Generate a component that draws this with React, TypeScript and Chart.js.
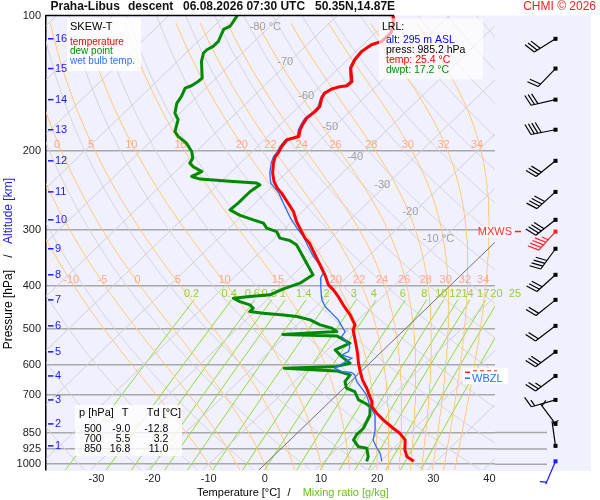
import React, { useEffect, useRef } from 'react';
import { Chart, registerables } from 'chart.js';
Chart.register(...registerables);

const FONT = '"Liberation Sans", Arial, Helvetica, sans-serif';
const SKEW = 36;

// ---- sounding data (pressure hPa, temperature °C) ----
const TEMP_P = [100, 104.9, 109.4, 114.2, 116.2, 120.3, 125.5, 130.9, 140.3, 143.4, 144.4, 145.8, 148.9, 152.8, 159.5, 163.6, 169.3, 175.2, 179.8, 186.0, 189.2, 195.9, 202.6, 206.2, 213.3, 224.5, 234.4, 242.5, 248.8, 261.9, 273.4, 287.8, 297.7, 313.0, 321.6, 338.5, 353.5, 365.6, 378.4, 398.4, 408.7, 423.0, 441.4, 464.7, 489.1, 501.9, 528.3, 565.6, 595.4, 616.3, 648.7, 677.0, 706.8, 725.2, 744.0, 769.7, 796.6, 831.3, 852.9, 882.7, 929.2, 961.7, 985.2];
const TEMP_T = [-60.0, -58.3, -57.2, -57.3, -58.5, -59.0, -58.7, -57.9, -55.2, -55.3, -56.6, -57.4, -57.9, -57.5, -56.3, -56.2, -56.5, -56.0, -55.5, -54.5, -56.0, -55.7, -55.1, -55.0, -54.1, -52.4, -50.6, -48.8, -47.1, -44.1, -41.6, -39.2, -37.4, -34.7, -32.9, -30.2, -27.9, -26.1, -24.3, -21.8, -20.0, -17.9, -15.5, -12.4, -9.7, -9.1, -6.9, -4.0, -2.0, -0.5, 1.8, 4.1, 6.2, 7.5, 8.4, 10.5, 12.9, 16.2, 18.3, 20.5, 22.3, 23.9, 26.0];

const DEW_P = [100, 103.1, 105.8, 107.2, 109.4, 114.2, 117.2, 119.2, 121.2, 126.6, 137.9, 140.3, 143.4, 145.1, 151.5, 156.7, 165.0, 170.7, 181.3, 186.0, 192.5, 201.0, 207.9, 213.3, 217.1, 222.7, 228.4, 231.5, 234.4, 236.3, 238.4, 246.7, 261.9, 271.1, 278.8, 285.3, 290.2, 297.7, 303.0, 313.4, 317.3, 324.4, 335.7, 356.4, 378.4, 394.9, 406.6, 419.3, 423.0, 426.5, 434.0, 441.4, 449.0, 456.9, 460.6, 464.7, 468.7, 476.7, 489.1, 497.5, 506.3, 513.6, 517.6, 537.4, 556.1, 575.6, 595.4, 605.3, 610.9, 619.4, 632.3, 654.4, 677.0, 688.9, 718.8, 731.2, 744.0, 776.4, 831.3, 860.4, 882.7, 913.6, 921.2, 961.7, 985.2];
const DEW_T = [-87.8, -87.4, -87.1, -87.7, -87.3, -86.4, -86.4, -86.9, -86.9, -85.7, -82.5, -82.6, -83.0, -83.7, -82.8, -82.4, -80.9, -79.1, -77.5, -76.0, -73.3, -70.8, -69.4, -69.0, -67.8, -65.3, -66.2, -64.2, -57.9, -53.4, -52.5, -53.0, -53.0, -53.2, -50.4, -47.2, -44.8, -43.3, -40.9, -39.1, -36.9, -34.9, -33.0, -29.7, -26.4, -27.2, -29.1, -30.4, -33.6, -36.3, -34.5, -32.1, -30.9, -30.9, -28.2, -24.3, -21.6, -18.6, -15.9, -13.2, -11.7, -20.8, -10.9, -7.2, -8.6, -6.2, -3.5, -5.3, -14.3, -4.5, -1.3, -1.0, 0.5, 2.6, 4.8, 6.6, 8.1, 9.6, 10.9, 10.9, 11.3, 13.4, 15.2, 17.0, 17.6];

const WB_P = [100, 104.9, 109.4, 114.2, 116.2, 120.3, 125.5, 130.9, 140.3, 143.4, 144.4, 145.8, 148.9, 152.8, 159.5, 163.6, 169.3, 175.2, 179.8, 186.0, 189.2, 195.9, 202.6, 206.2, 213.3, 224.5, 236.3, 248.8, 264.2, 282.8, 297.7, 310.9, 327.3, 344.5, 356.4, 375.2, 384.3, 402.5, 423.0, 430.2, 445.3, 460.6, 476.7, 493.4, 506.3, 519.4, 532.9, 546.8, 561.0, 570.6, 580.3, 610.9, 621.7, 624, 632.3, 654.4, 677.0, 700.7, 718.8, 744.0, 776.4, 838.5, 882.7, 921.2, 945.1, 985.2];
const WB_T = [-60.1, -58.4, -57.4, -57.5, -58.7, -59.2, -58.9, -58.1, -55.5, -55.6, -56.8, -57.6, -58.1, -57.7, -56.6, -56.5, -56.8, -56.3, -55.8, -54.8, -56.3, -56.0, -55.4, -55.3, -54.5, -52.9, -50.9, -47.6, -44.5, -40.9, -37.9, -35.2, -32.5, -29.7, -27.6, -24.9, -24.5, -22.8, -20.9, -20.2, -18.4, -16.0, -13.6, -11.7, -10.2, -9.9, -8.1, -6.6, -5.9, -6.5, -4.1, -5.3, -3.4, -1.6, -0.5, 1.1, 3.2, 5.3, 6.5, 8.1, 10.5, 13.3, 14.8, 17.0, 18.5, 20.3];

// ---- altitude marks and winds (one per km) ----
const ALT_KM = [1, 2, 3, 4, 5, 6, 7, 8, 9, 10, 11, 12, 13, 14, 15, 16];
const ALT_P = [910, 813, 718.8, 635.6, 561.6, 491.6, 430.2, 378.3, 331, 285.3, 247.2, 210.8, 179.7, 154, 131.3, 112.7];
const WIND_DIR = [352, 323, 254, 233, 233, 233, 231, 228, 216, 232, 228, 231, 259, 257, 224, 238];
const WIND_SPD = [3, 5, 15, 25, 30, 20, 20, 30, 40, 40, 40, 30, 40, 30, 20, 30];
const MXWS_P = 303, MXWS_DIR = 222, MXWS_SPD = 45;
const SFC_P = 985.2, SFC_DIR = 203, SFC_SPD = 5;
const FZL_P = 619, WBZL_P = 643;

// ---- diagram reference lines ----
const MIX_RATIOS = [0.2, 0.4, 0.6, 0.8, 1, 1.4, 2, 3, 4, 6, 8, 10, 12, 14, 17, 20, 25];
const THETA_W = [-10, -5, 0, 5, 10, 15, 20, 22, 24, 26, 28, 30, 32, 34];
const ISO_LABEL_T = [-80, -70, -60, -50, -40, -30, -20, -10];
const ISO_LABEL_P = [106, 126.8, 150.9, 177, 206.5, 238.4, 273.8, 314.6];
const ISO_LABEL_TXT = ['-80 °C', '-70', '-60', '-50', '-40', '-30', '-20', '-10 °C'];

const X_TICKS = [-30, -20, -10, 0, 10, 20, 30, 40];
const P_TICKS = [100, 200, 300, 400, 500, 600, 700, 850, 925, 1000];

const TABLE_P = ['500', '700', '850'];
const TABLE_T = ['-9.0', '5.5', '16.8'];
const TABLE_TD = ['-12.8', '3.2', '11.0'];

const skewX = (t: number, p: number) => t + SKEW * Math.log(1000 / p);

function esat(tc: number) { return 6.112 * Math.exp(17.67 * tc / (tc + 243.5)); }
function rsat(p: number, tc: number) { const e = esat(tc); return 0.622 * e / (p - e); }
function lapse(p: number, tk: number) {
  const Rd = 287.04, Cp = 1005.7, Lv = 2.501e6, eps = 0.622;
  const rs = rsat(p, tk - 273.15);
  return (Rd * tk + Lv * rs) / (Cp + (Lv * Lv * rs * eps) / (Rd * tk * tk)) / p;
}
function moistAdiabat(tw: number) {
  const up: { x: number; y: number }[] = [];
  let t200 = 0, t400 = 0;
  let t = tw + 273.15;
  const dp = -2;
  up.push({ x: skewX(tw, 1000), y: 1000 });
  for (let k = 1; k <= 450; k++) {
    const p = 1000 + dp * (k - 1);
    const k1 = lapse(p, t);
    const k2 = lapse(p + dp / 2, t + k1 * dp / 2);
    t += k2 * dp;
    const pn = 1000 + dp * k;
    if (pn === 400) t400 = t - 273.15;
    if (pn === 200) t200 = t - 273.15;
    if (k % 4 === 0) up.push({ x: skewX(t - 273.15, pn), y: pn });
  }
  const low: { x: number; y: number }[] = [];
  t = tw + 273.15;
  for (let k = 1; k <= 20; k++) {
    const p = 1000 + 2 * (k - 1);
    const k1 = lapse(p, t);
    const k2 = lapse(p + 1, t + k1);
    t += k2 * 2;
    if (k % 5 === 0) low.push({ x: skewX(t - 273.15, p + 2), y: p + 2 });
  }
  return { pts: [...low.reverse(), ...up], t200, t400 };
}
function tMix(w: number, p: number) {
  const e = (w / 1000) * p / (0.622 + w / 1000);
  const l = Math.log(e / 6.112);
  return 243.5 * l / (17.67 - l);
}

function drawBarb(ctx: CanvasRenderingContext2D, x: number, y: number, dir: number, spd: number, color: string) {
  const L = 25;
  const r = dir * Math.PI / 180;
  const sx = Math.sin(r), sy = -Math.cos(r);
  const ex = x + sx * L, ey = y + sy * L;
  const fx = -sy, fy = sx;
  ctx.strokeStyle = color; ctx.fillStyle = color; ctx.lineWidth = 1.2;
  ctx.fillRect(x - 2, y - 2, 4, 4);
  ctx.beginPath(); ctx.moveTo(x, y); ctx.lineTo(ex, ey); ctx.stroke();
  let s = Math.round(spd / 5) * 5;
  let d = 0;
  const full = 11, half = 6.5;
  if (s < 10 && s >= 5) d = 2.5;
  while (s >= 10) {
    const bx = ex - sx * d, by = ey - sy * d;
    ctx.beginPath(); ctx.moveTo(bx, by);
    ctx.lineTo(bx + fx * full + sx * 4, by + fy * full + sy * 4); ctx.stroke();
    s -= 10; d += 3.5;
  }
  if (s >= 5) {
    const bx = ex - sx * d, by = ey - sy * d;
    ctx.beginPath(); ctx.moveTo(bx, by);
    ctx.lineTo(bx + fx * half + sx * 2.2, by + fy * half + sy * 2.2); ctx.stroke();
  }
}

export default function App() {
  const ref = useRef<HTMLCanvasElement>(null);
  useEffect(() => {
    const canvas = ref.current;
    if (!canvas) return;
    const datasets: any[] = [];
    const bg = (data: any[], color: string, order = 10, width = 1) =>
      datasets.push({ data, borderColor: color, borderWidth: width, showLine: true, pointRadius: 0, order, tension: 0 });

    for (let t = -130; t <= 40; t += 10) {
      bg([{ x: skewX(t, 100), y: 100 }, { x: skewX(t, 1040), y: 1040 }], t === 0 ? '#707070' : '#d0d0d0', t === 0 ? 9 : 10);
    }
    for (let th = 230; th <= 470; th += 10) {
      const pts: any[] = [];
      for (let p = 100; p <= 1040; p += 20) {
        const t = th * Math.pow(p / 1000, 0.2857) - 273.15;
        pts.push({ x: skewX(t, p), y: p });
      }
      bg(pts, '#d6d6d6', 11);
    }
    const moist200: { v: number; t: number }[] = [];
    const moist400: { v: number; t: number }[] = [];
    THETA_W.forEach((tw) => {
      const m = moistAdiabat(tw);
      bg(m.pts, '#ffc878', 10);
      if (tw >= 0) moist200.push({ v: tw, t: m.t200 });
      moist400.push({ v: tw, t: m.t400 });
    });
    MIX_RATIOS.forEach((w) => {
      const pts: any[] = [];
      for (const p of [430, 500, 600, 700, 800, 900, 1000, 1040]) pts.push({ x: skewX(tMix(w, p), p), y: p });
      bg(pts, '#92d83a', 10);
    });

    const dewIdx = datasets.length;
    datasets.push({ data: DEW_P.map((p, i) => ({ x: skewX(DEW_T[i], p), y: p })), borderColor: '#008a00', borderWidth: 3, showLine: true, pointRadius: 0, order: 3, borderJoinStyle: 'round' });
    datasets.push({ data: WB_P.map((p, i) => ({ x: skewX(WB_T[i], p), y: p })), borderColor: '#2a6cff', borderWidth: 1.3, showLine: true, pointRadius: 0, order: 2 });
    datasets.push({ data: TEMP_P.map((p, i) => ({ x: skewX(TEMP_T[i], p), y: p })), borderColor: '#ff0000', borderWidth: 3, showLine: true, pointRadius: 0, order: 1, borderJoinStyle: 'round' });

    const font = (s: number, b = false) => `${b ? 'bold ' : ''}${s}px ${FONT}`;

    const plugin = {
      id: 'skewtDecor',
      beforeDraw(chart: any) {
        const { ctx, chartArea: a } = chart;
        ctx.save();
        ctx.fillStyle = '#ffffff';
        ctx.fillRect(0, 0, chart.width, chart.height);
        ctx.fillStyle = '#f0f0ff';
        ctx.fillRect(a.left, a.top, 591 - a.left, 471 - a.top);
        const ys = chart.scales.y;
        ctx.strokeStyle = '#a8a8a8'; ctx.lineWidth = 1.5;
        for (const p of [850, 925, 1000]) {
          const py = ys.getPixelForValue(p);
          ctx.beginPath(); ctx.moveTo(a.right, py); ctx.lineTo(547, py); ctx.stroke();
        }
        ctx.restore();
      },
      beforeDatasetDraw(chart: any, args: any) {
        if (args.index !== dewIdx) return;
        const { ctx } = chart;
        const xs = chart.scales.x, ys = chart.scales.y;
        ctx.save();
        ctx.font = font(11);
        ctx.textAlign = 'center'; ctx.textBaseline = 'middle';
        ctx.fillStyle = '#ffa888';
        moist200.forEach((m) => ctx.fillText(String(m.v), xs.getPixelForValue(skewX(m.t, 200)) - 4, ys.getPixelForValue(200) - 6));
        moist400.forEach((m) => ctx.fillText(String(m.v), xs.getPixelForValue(skewX(m.t, 400)) - 2.5, ys.getPixelForValue(400) - 6));
        ctx.fillStyle = '#9acd32';
        MIX_RATIOS.forEach((w) => ctx.fillText(String(w), xs.getPixelForValue(skewX(tMix(w, 430), 430)) - 2.5, ys.getPixelForValue(430) - 6));
        ctx.fillStyle = '#a0a0a0';
        ISO_LABEL_T.forEach((t, i) => {
          const p = ISO_LABEL_P[i];
          ctx.fillText(ISO_LABEL_TXT[i], xs.getPixelForValue(skewX(t, p)) - 4, ys.getPixelForValue(p));
        });
        ctx.restore();
      },
      afterDraw(chart: any) {
        const { ctx, chartArea: a } = chart;
        const ys = chart.scales.y;
        ctx.save();
        // top border
        ctx.strokeStyle = '#000'; ctx.lineWidth = 1.5;
        ctx.beginPath(); ctx.moveTo(a.left, a.top); ctx.lineTo(394, a.top); ctx.stroke();

        // title
        ctx.textBaseline = 'middle'; ctx.textAlign = 'left';
        ctx.fillStyle = '#111'; ctx.font = font(12, true);
        ctx.fillText('Praha-Libus', 50.5, 7);
        ctx.fillText('descent', 128, 7);
        ctx.fillText('06.08.2026 07:30 UTC', 183, 7);
        ctx.fillText('50.35N,14.87E', 315, 7);
        ctx.font = font(12); ctx.fillStyle = '#ee2222'; ctx.textAlign = 'right';
        ctx.fillText('CHMI © 2026', 596, 7);

        // altitude marks
        ctx.font = font(11); ctx.textAlign = 'left'; ctx.fillStyle = '#1a1aff'; ctx.strokeStyle = '#1a1aff'; ctx.lineWidth = 1.5;
        ALT_KM.forEach((km, i) => {
          const y = ys.getPixelForValue(ALT_P[i]);
          ctx.beginPath(); ctx.moveTo(48, y); ctx.lineTo(53.5, y); ctx.stroke();
          ctx.fillText(String(km), 55, y);
        });

        // legend box
        ctx.fillStyle = 'rgba(255,255,255,0.85)';
        ctx.fillRect(67, 18, 74, 53);
        ctx.font = font(11); ctx.fillStyle = '#000';
        ctx.fillText('SKEW-T', 70, 26.5);
        ctx.font = font(10);
        ctx.fillStyle = '#ff0000'; ctx.fillText('temperature', 70, 42.3);
        ctx.fillStyle = '#009000'; ctx.fillText('dew point', 70, 51.7);
        ctx.fillStyle = '#3070ff'; ctx.fillText('wet bulb temp.', 70, 61.7);

        // LRL box
        ctx.fillStyle = 'rgba(255,255,255,0.65)';
        ctx.fillRect(379, 18.3, 104, 61);
        ctx.font = font(10.5);
        ctx.fillStyle = '#000'; ctx.fillText('LRL:', 382, 27.3);
        ctx.fillStyle = '#0000ff'; ctx.fillText('alt: 295 m ASL', 386, 40);
        ctx.fillStyle = '#000'; ctx.fillText('press: 985.2 hPa', 386, 50);
        ctx.fillStyle = '#ff0000'; ctx.fillText('temp: 25.4 °C', 386, 60);
        ctx.fillStyle = '#009000'; ctx.fillText('dwpt: 17.2 °C', 386, 70);

        // table box
        ctx.fillStyle = 'rgba(255,255,255,0.8)';
        ctx.fillRect(75, 405, 107, 51);
        ctx.fillStyle = '#000'; ctx.font = font(11);
        ctx.textAlign = 'left'; ctx.fillText('p [hPa]', 79, 413.3);
        ctx.textAlign = 'center'; ctx.fillText('T', 125, 413.3);
        ctx.textAlign = 'left'; ctx.fillText('Td [°C]', 146.7, 413.3);
        ctx.font = font(10.5); ctx.textAlign = 'right';
        TABLE_P.forEach((p, i) => {
          const y = 429 + i * 10;
          ctx.fillText(p, 101.7, y);
          ctx.fillText(TABLE_T[i], 130.3, y);
          ctx.fillText(TABLE_TD[i], 168.3, y);
        });

        // MXWS
        const ym = ys.getPixelForValue(MXWS_P);
        ctx.font = font(11);
        ctx.fillStyle = 'rgba(255,255,255,0.7)';
        ctx.fillRect(481, ym - 6, 32, 12);
        ctx.fillStyle = '#ff3030'; ctx.textAlign = 'right';
        ctx.fillText('MXWS', 512, ym);
        ctx.strokeStyle = '#ff2020'; ctx.lineWidth = 1.5;
        ctx.beginPath(); ctx.moveTo(515, ym); ctx.lineTo(521, ym); ctx.stroke();

        // FZL / WBZL
        const yf = ys.getPixelForValue(FZL_P), yw = ys.getPixelForValue(WBZL_P);
        ctx.fillStyle = 'rgba(255,255,255,0.85)';
        ctx.fillRect(463, yf - 3, 45, yw - yf + 9);
        ctx.strokeStyle = '#ff2020'; ctx.lineWidth = 1.5;
        ctx.beginPath(); ctx.moveTo(465, yf + 1.5); ctx.lineTo(470, yf + 1.5); ctx.stroke();
        ctx.setLineDash([4, 3]); ctx.lineWidth = 1;
        ctx.beginPath(); ctx.moveTo(473, yf); ctx.lineTo(497, yf); ctx.stroke();
        ctx.setLineDash([]);
        ctx.strokeStyle = '#2a6cff'; ctx.lineWidth = 1.5;
        ctx.beginPath(); ctx.moveTo(465, yw); ctx.lineTo(470, yw); ctx.stroke();
        ctx.fillStyle = '#2a6cff'; ctx.textAlign = 'left'; ctx.font = font(11);
        ctx.fillText('WBZL', 472, yw + 0.5);

        // wind barbs
        ALT_P.forEach((p, i) => drawBarb(ctx, 555.5, ys.getPixelForValue(p), WIND_DIR[i], WIND_SPD[i], '#000'));
        drawBarb(ctx, 555.5, ym, MXWS_DIR, MXWS_SPD, '#ff2020');
        drawBarb(ctx, 555.5, ys.getPixelForValue(SFC_P), SFC_DIR, SFC_SPD, '#1a1aff');

        // x-axis title
        ctx.font = font(11); ctx.textAlign = 'left'; ctx.textBaseline = 'middle';
        ctx.fillStyle = '#000';
        ctx.fillText('Temperature [°C]', 197, 493);
        ctx.fillText('/', 287.5, 493);
        ctx.fillStyle = '#66c41a';
        ctx.fillText('Mixing ratio [g/kg]', 302.7, 493);

        // y-axis title (rotated)
        ctx.translate(8.5, 0);
        ctx.rotate(-Math.PI / 2);
        ctx.font = font(12);
        ctx.fillStyle = '#000';
        ctx.textAlign = 'right'; ctx.fillText('Pressure [hPa]', -270, 0);
        ctx.textAlign = 'center'; ctx.fillText('/', -256, 0);
        ctx.fillStyle = '#1a1aff'; ctx.textAlign = 'left'; ctx.fillText('Altitude [km]', -244, 0);
        ctx.restore();
      },
    };

    const chart = new Chart(canvas, {
      type: 'scatter',
      data: { datasets },
      options: {
        animation: false,
        responsive: false,
        events: [],
        layout: { padding: { left: 0, right: 105, top: 15.5, bottom: 0 } },
        plugins: { legend: { display: false }, tooltip: { enabled: false } },
        scales: {
          x: {
            type: 'linear',
            min: -39,
            max: 41,
            grid: { display: false, drawTicks: false },
            border: { display: false },
            afterBuildTicks: (axis: any) => { axis.ticks = X_TICKS.map((v) => ({ value: v })); },
            afterFit: (axis: any) => { axis.height = 30; },
            ticks: { color: '#222', font: { size: 11, family: FONT }, padding: 2, autoSkip: false, maxRotation: 0, callback: (v: any) => String(v) },
          },
          y: {
            type: 'logarithmic',
            reverse: true,
            min: 100,
            max: 1030,
            grid: {
              color: (c: any) => (c.tick && c.tick.value === 100 ? 'rgba(0,0,0,0)' : '#a8a8a8'),
              lineWidth: 1.5,
              drawTicks: false,
            },
            border: { display: true, color: '#000', width: 1.5 },
            afterBuildTicks: (axis: any) => { axis.ticks = P_TICKS.map((v) => ({ value: v })); },
            afterFit: (axis: any) => { axis.width = 46; },
            ticks: { color: '#222', font: { size: 11, family: FONT }, padding: 5, autoSkip: false, callback: (v: any) => String(v) },
          },
        },
      } as any,
      plugins: [plugin as any],
    });
    return () => chart.destroy();
  }, []);

  return (
    <div style={{ position: 'fixed', left: 0, top: 0, width: 600, height: 500, background: '#fff' }}>
      <canvas ref={ref} width={600} height={500} style={{ display: 'block', width: 600, height: 500 }} />
    </div>
  );
}
